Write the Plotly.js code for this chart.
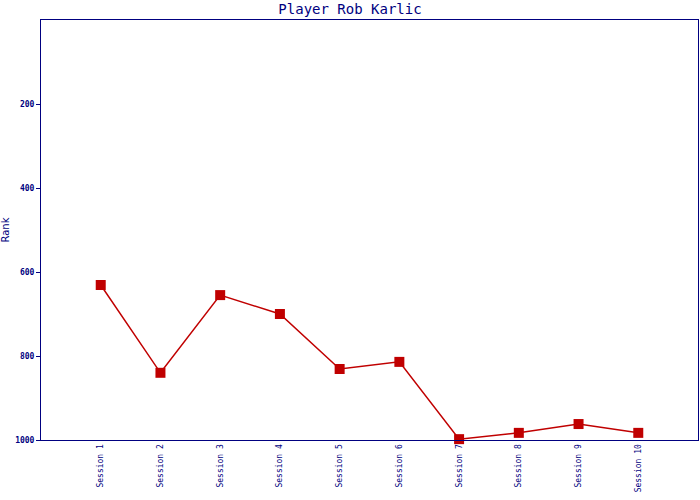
<!DOCTYPE html>
<html><head><meta charset="utf-8">
<script src="https://cdn.plot.ly/plotly-3.0.1.min.js"></script>
<style>html,body{margin:0;padding:0;background:#fff}</style>
</head><body>
<div id="chart" style="width:700px;height:500px"></div>
<script>
const sessions = ["Session 1","Session 2","Session 3","Session 4","Session 5","Session 6","Session 7","Session 8","Session 9","Session 10"];
const ranks = [631, 840, 655, 700, 831, 814, 998, 983, 962, 983];
const yTicks = [200, 400, 600, 800, 1000];

const trace = {
  x: sessions, y: ranks, type: 'scatter', mode: 'lines+markers',
  line: {color: '#c00000', width: 1.5},
  marker: {symbol: 'square', size: 10, color: '#c00000'},
  cliponaxis: false
};
const layout = {
  width: 700, height: 500,
  margin: {l: 41, r: 2, t: 20, b: 60},
  paper_bgcolor: '#fff', plot_bgcolor: '#fff',
  showlegend: false,
  title: {text: 'Player Rob Karlic', x: 0.5, xanchor: 'center', y: 0.982, yanchor: 'middle',
          font: {family: 'DejaVu Sans Mono', size: 14, color: '#000080'}},
  xaxis: {
    type: 'category', range: [-1, 10], showgrid: false, zeroline: false,
    showline: true, linecolor: '#000080', linewidth: 1, mirror: true,
    ticks: '', tickangle: -90,
    tickfont: {family: 'DejaVu Sans Mono', size: 8, color: '#000080'}
  },
  yaxis: {
    range: [1000, 0], autorange: false, showgrid: false, zeroline: false,
    showline: true, linecolor: '#000080', linewidth: 1, mirror: true,
    ticks: 'outside', ticklen: 4, tickcolor: '#000080',
    tickvals: yTicks, ticktext: yTicks.map(String),
    tickfont: {family: 'DejaVu Sans Mono', size: 8, color: '#000080', weight: 'bold'},
    title: {text: 'Rank', standoff: 8, font: {family: 'DejaVu Sans', size: 10, color: '#000080'}}
  }
};
Plotly.newPlot('chart', [trace], layout, {displayModeBar: false, staticPlot: true});
</script>
</body></html>
